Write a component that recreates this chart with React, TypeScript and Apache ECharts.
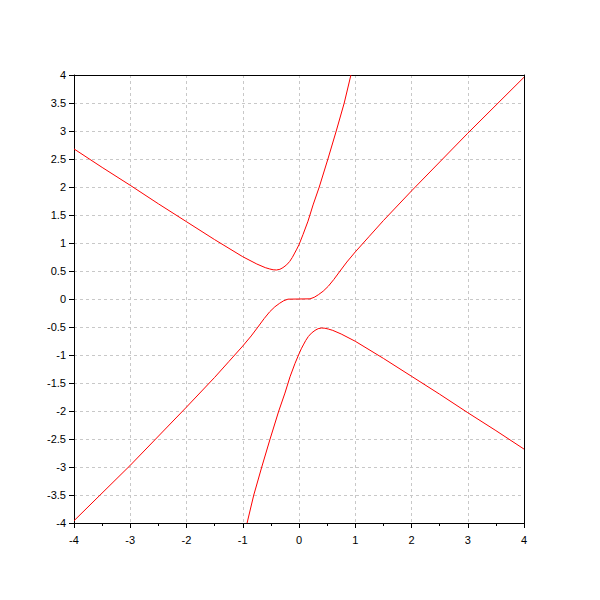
import React, { useEffect, useRef } from "react";
import * as echarts from "echarts";

const upperBranch: [number, number][] = [
  [-4, 2.68], [-3.5, 2.35], [-3, 2.03], [-2.5, 1.70], [-2, 1.38], [-1.5, 1.06],
  [-1, 0.755], [-0.75, 0.625], [-0.6, 0.56], [-0.52, 0.536], [-0.46, 0.522], [-0.4, 0.518],
  [-0.34, 0.53], [-0.285, 0.56], [-0.22, 0.61], [-0.166, 0.67], [-0.12, 0.74], [-0.077, 0.82],
  [-0.04, 0.89], [0, 0.97], [0.071, 1.15], [0.16, 1.39],
  [0.25, 1.68], [0.36, 2.0], [0.514, 2.5], [0.662, 3.0], [0.804, 3.5], [0.923, 4.0],
];

const middleBranch: [number, number][] = [
  [-4, -3.96], [-3, -2.97], [-2, -1.93], [-1.5, -1.40], [-1.25, -1.12], [-1, -0.84],
  [-0.85, -0.66], [-0.73, -0.5], [-0.62, -0.35], [-0.52, -0.227], [-0.43, -0.14], [-0.344, -0.076],
  [-0.27, -0.03], [-0.196, -0.003], [0, 0],
  [0.196, 0.003], [0.27, 0.03], [0.344, 0.076], [0.43, 0.14], [0.52, 0.227], [0.62, 0.35],
  [0.73, 0.5], [0.85, 0.66], [1, 0.84], [1.25, 1.12], [1.5, 1.40], [2, 1.93], [3, 2.96], [4, 3.96],
];

const lowerBranch: [number, number][] = [
  [-0.923, -4.0], [-0.804, -3.5], [-0.662, -3.0], [-0.514, -2.5], [-0.36, -2.0],
  [-0.25, -1.68], [-0.16, -1.39], [-0.071, -1.15], [0, -0.98], [0.04, -0.89],
  [0.077, -0.82], [0.12, -0.74], [0.166, -0.67], [0.22, -0.61], [0.285, -0.56],
  [0.34, -0.53], [0.4, -0.518], [0.46, -0.522], [0.52, -0.536], [0.6, -0.56],
  [0.75, -0.625], [1, -0.755], [1.5, -1.06], [2, -1.38],
  [2.5, -1.70], [3, -2.03], [3.5, -2.35], [4, -2.68],
];

const branches = [upperBranch, middleBranch, lowerBranch];

export default function App() {
  const ref = useRef<HTMLDivElement>(null);
  useEffect(() => {
    if (!ref.current) return;
    const chart = echarts.init(ref.current, undefined, { renderer: "svg" });
    const font = "Liberation Sans, Arial, sans-serif";
    const grid = { color: "#c8c8c8", type: [3, 3], width: 1 };
    const frame = {
      show: true,
      axisLine: { show: true, onZero: false, lineStyle: { color: "#000", width: 1 } },
      axisTick: { show: false },
      axisLabel: { show: false },
      splitLine: { show: false },
      min: -4, max: 4,
      type: "value",
    };
    chart.setOption({
      animation: false,
      grid: { left: 74, right: 76, top: 75, bottom: 77 },
      xAxis: [
        {
          type: "value", min: -4, max: 4, interval: 1, position: "bottom",
          axisLine: { show: true, onZero: false, lineStyle: { color: "#000", width: 1 } },
          axisTick: { show: true, inside: false, length: 5, lineStyle: { color: "#000" } },
          minorTick: { show: true, splitNumber: 2, length: 3, lineStyle: { color: "#000" } },
          axisLabel: { color: "#000", fontSize: 11, fontFamily: font, margin: 11 },
          splitLine: { show: true, lineStyle: grid },
        },
        { ...frame, position: "top" },
      ],
      yAxis: [
        {
          type: "value", min: -4, max: 4, interval: 0.5, position: "left",
          axisLine: { show: true, onZero: false, lineStyle: { color: "#000", width: 1 } },
          axisTick: { show: true, inside: false, length: 5, lineStyle: { color: "#000" } },
          axisLabel: { color: "#000", fontSize: 11, fontFamily: font, margin: 8 },
          splitLine: { show: true, lineStyle: grid },
        },
        { ...frame, position: "right" },
      ],
      series: branches.map((b) => ({
        type: "line",
        data: b,
        xAxisIndex: 0,
        yAxisIndex: 0,
        showSymbol: false,
        smooth: false,
        lineStyle: { color: "#ff0000", width: 1 },
        itemStyle: { color: "#ff0000" },
      })),
    });
    return () => chart.dispose();
  }, []);
  return <div ref={ref} style={{ width: 600, height: 600, position: "absolute", left: 0, top: 0 }} />;
}
